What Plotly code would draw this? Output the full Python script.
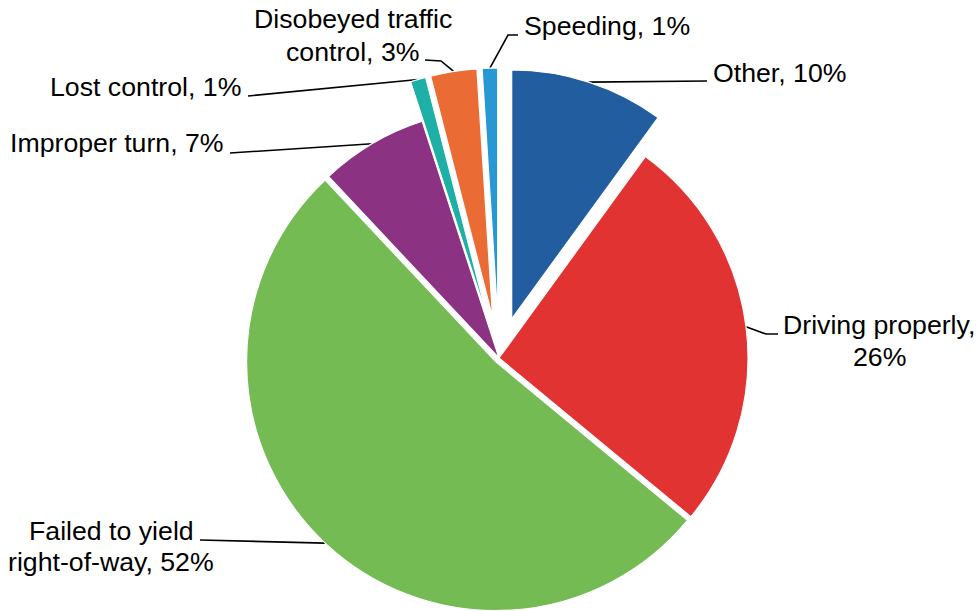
import math
import plotly.graph_objects as go

# ---------------- data ----------------
categories = ["Other", "Driving properly", "Failed to yield right-of-way",
              "Improper turn", "Lost control", "Disobeyed traffic control", "Speeding"]
values = [10, 26, 52, 7, 1, 3, 1]

# ---------------- style ----------------
colors = ["#225E9F", "#E23333", "#74BB54", "#8B3283", "#1EB0A6", "#EA6C34", "#2898D4"]
pulls = [0.165, 0, 0.02, 0, 0.165, 0.165, 0.165]

W, H = 980, 611
CX, CY, R = 499, 358, 249          # pie centre / radius in pixels
BORDER = 1.2
FONT = dict(family="Arial, Liberation Sans, sans-serif", size=26.7, color="#000000")

# words on first line (None = single line)
first_line_words = [None, 2, 3, None, None, 2, None]
# label placement: (x, xanchor, [y of each line])
label_pos = [
    (711, "left", [72.5]),
    (879, "center", [324.5, 356.5]),
    (111, "center", [530.5, 561.5]),
    (226, "right", [143]),
    (243, "right", [87]),
    (353, "center", [19, 52]),
    (522, "left", [26]),
]
# leader line elbows after the slice anchor
leader_elbows = [
    [(707, 81)],
    [(766, 334), (778, 334)],
    [(200, 540)],
    [(230, 153)],
    [(248, 96)],
    [(441, 61), (425, 60)],
    [(508, 35), (518, 35)],
]

TRANSPARENT = "rgba(0,0,0,0)"


def domain_for(cx, cy, r):
    return dict(x=[max(0, (cx - r) / W), min(1, (cx + r) / W)],
                y=[max(0, 1 - (cy + r) / H), min(1, 1 - (cy - r) / H)])


total = sum(values)
mid_angles = []
cum = 0
for v in values:
    mid_angles.append(math.radians(360.0 * (cum + v / 2) / total))
    cum += v

fig = go.Figure()

# each slice: the whole pie (other slices transparent) translated along the slice bisector
centres = []
n = len(values)
for i, p in enumerate(pulls):
    a = mid_angles[i]
    cx = CX + p * R * math.sin(a)
    cy = CY - p * R * math.cos(a)
    centres.append((cx, cy))
    fig.add_trace(go.Pie(
        values=values, labels=categories, sort=False, direction="clockwise", rotation=0,
        marker=dict(colors=[colors[j] if j == i else TRANSPARENT for j in range(n)],
                    line=dict(color="white", width=[BORDER if j == i else 0 for j in range(n)])),
        textinfo="none", hoverinfo="label+percent", showlegend=False,
        domain=domain_for(cx, cy, R),
    ))

# leader lines
for i in range(n):
    a = mid_angles[i]
    cx, cy = centres[i]
    ax = cx + R * math.sin(a)
    ay = cy - R * math.cos(a)
    xs = [ax] + [e[0] for e in leader_elbows[i]]
    ys = [ay] + [e[1] for e in leader_elbows[i]]
    fig.add_trace(go.Scatter(x=xs, y=ys, mode="lines", line=dict(color="#000000", width=1.6),
                             hoverinfo="skip", showlegend=False))

# labels
annotations = []
for i, (cat, v) in enumerate(zip(categories, values)):
    text = f"{cat}, {v}%"
    words = text.split(" ")
    k = first_line_words[i]
    lines = [text] if k is None else [" ".join(words[:k]), " ".join(words[k:])]
    x, xa, ys = label_pos[i]
    for line, y in zip(lines, ys):
        annotations.append(dict(x=x, y=y, xref="x", yref="y", text=line, showarrow=False,
                                xanchor=xa, yanchor="middle", font=FONT))

fig.update_layout(
    width=W, height=H, margin=dict(l=0, r=0, t=0, b=0),
    paper_bgcolor="white", plot_bgcolor="white", showlegend=False,
    xaxis=dict(range=[0, W], visible=False, fixedrange=True),
    yaxis=dict(range=[H, 0], visible=False, fixedrange=True),
    annotations=annotations,
)

fig.write_html("out.html", config={"displayModeBar": False},
               post_script="document.body.style.margin='0';document.body.style.overflow='hidden';")
